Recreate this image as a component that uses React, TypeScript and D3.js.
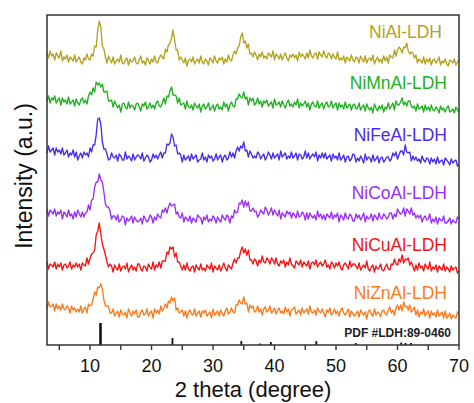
import React, { useEffect, useRef } from "react";
import * as d3 from "d3";

// Scan grid: 2θ from 3° to 70° in 0.25° steps (269 points per pattern)
const twoThetaStart = 3;
const twoThetaStep = 0.25;

const seriesNames = ["NiAl-LDH", "NiMnAl-LDH", "NiFeAl-LDH", "NiCoAl-LDH", "NiCuAl-LDH", "NiZnAl-LDH"];
const seriesColors = ["#b5a320", "#22b022", "#4a2de6", "#9b2ff2", "#f01616", "#f97b1d"];
// vertical stacking offsets (a.u.)
const seriesOffsets = [270, 225, 175, 115, 65, 20];

const niAl = [
  22, 17, 24, 19, 21, 15, 22, 19, 17, 24, 14, 18, 16, 20, 13, 18, 16, 14, 20, 13,
  16, 18, 13, 11, 17, 15, 21, 16, 15, 21, 19, 29, 28, 45, 54, 48, 29, 26, 18, 12,
  19, 15, 12, 18, 11, 14, 16, 13, 20, 12, 11, 15, 17, 10, 16, 13, 14, 18, 12, 11,
  15, 19, 12, 14, 10, 17, 15, 11, 16, 13, 19, 13, 12, 17, 20, 18, 16, 26, 23, 30,
  32, 37, 45, 35, 25, 25, 15, 18, 15, 12, 17, 9, 15, 16, 13, 18, 11, 14, 16, 12,
  19, 13, 11, 16, 14, 10, 17, 15, 12, 19, 14, 12, 17, 15, 18, 11, 16, 13, 20, 15,
  14, 20, 24, 21, 27, 29, 38, 42, 32, 34, 27, 31, 21, 22, 18, 23, 20, 15, 21, 18,
  23, 17, 19, 16, 22, 20, 18, 24, 15, 21, 19, 16, 21, 15, 19, 22, 17, 14, 20, 18,
  21, 17, 20, 14, 23, 18, 21, 19, 16, 22, 17, 25, 19, 17, 21, 22, 16, 23, 20, 18,
  24, 19, 17, 22, 21, 16, 21, 18, 16, 23, 15, 17, 15, 19, 12, 18, 16, 14, 20, 15,
  13, 18, 17, 12, 19, 16, 13, 19, 12, 16, 17, 14, 20, 11, 15, 18, 13, 16, 12, 19,
  14, 18, 12, 20, 18, 17, 25, 19, 25, 28, 26, 22, 28, 27, 32, 24, 21, 23, 22, 17,
  20, 12, 16, 14, 12, 18, 11, 16, 13, 17, 10, 15, 16, 12, 14, 18, 10, 14, 12, 16,
  11, 9, 15, 14, 12, 16, 10, 13, 15,
];
const niMnAl = [
  19, 24, 17, 22, 20, 24, 17, 20, 22, 15, 22, 18, 20, 16, 23, 16, 18, 20, 14, 21,
  17, 15, 20, 22, 17, 20, 16, 24, 28, 25, 32, 28, 38, 35, 37, 33, 36, 28, 28, 29,
  19, 19, 20, 13, 19, 15, 12, 15, 8, 16, 17, 13, 11, 18, 12, 15, 14, 10, 16, 17,
  13, 9, 16, 14, 18, 11, 13, 17, 12, 15, 11, 17, 19, 14, 13, 17, 22, 16, 24, 23,
  29, 33, 25, 25, 24, 17, 22, 15, 16, 17, 11, 19, 13, 12, 15, 10, 17, 14, 12, 16,
  8, 14, 16, 11, 13, 17, 10, 12, 15, 9, 14, 16, 11, 13, 10, 18, 13, 16, 9, 15,
  18, 14, 13, 21, 21, 26, 23, 22, 28, 21, 23, 15, 22, 19, 22, 15, 17, 22, 16, 19,
  13, 19, 17, 20, 14, 16, 18, 12, 21, 15, 16, 18, 13, 19, 15, 12, 17, 20, 14, 16,
  13, 18, 15, 21, 12, 17, 14, 16, 19, 13, 17, 10, 16, 18, 14, 13, 19, 12, 15, 17,
  11, 16, 18, 13, 14, 19, 12, 15, 17, 10, 17, 13, 15, 11, 18, 12, 14, 16, 10, 15,
  16, 11, 12, 17, 10, 13, 15, 9, 16, 12, 10, 13, 7, 16, 12, 9, 14, 11, 15, 8,
  13, 11, 17, 11, 14, 17, 10, 19, 15, 15, 18, 22, 15, 18, 14, 19, 19, 14, 12, 14,
  9, 16, 11, 12, 14, 8, 15, 10, 13, 9, 15, 10, 9, 13, 11, 7, 14, 10, 12, 8,
  12, 14, 8, 9, 11, 7, 13, 10, 8,
];
const niFeAl = [
  17, 24, 18, 20, 22, 15, 22, 18, 20, 16, 22, 15, 17, 20, 13, 17, 15, 20, 13, 18,
  10, 14, 17, 12, 18, 15, 17, 13, 22, 18, 25, 25, 35, 51, 52, 46, 28, 21, 21, 16,
  10, 11, 17, 13, 12, 15, 9, 16, 14, 10, 10, 18, 11, 14, 12, 9, 16, 10, 13, 15,
  14, 11, 17, 9, 12, 15, 13, 8, 10, 16, 12, 15, 11, 15, 18, 12, 17, 17, 26, 25,
  27, 36, 33, 24, 25, 16, 17, 15, 8, 15, 10, 12, 14, 9, 16, 11, 13, 15, 8, 10,
  11, 17, 10, 13, 8, 15, 12, 14, 9, 11, 16, 10, 13, 15, 8, 13, 15, 10, 12, 18,
  13, 17, 12, 19, 23, 19, 24, 22, 28, 19, 20, 13, 19, 16, 12, 14, 12, 18, 16, 11,
  14, 16, 10, 13, 18, 15, 11, 17, 12, 14, 16, 10, 19, 13, 15, 17, 11, 14, 12, 18,
  12, 14, 17, 10, 16, 15, 11, 13, 19, 12, 17, 11, 14, 16, 13, 18, 9, 15, 12, 17,
  12, 17, 11, 13, 15, 9, 16, 12, 14, 10, 17, 10, 12, 15, 8, 13, 14, 9, 11, 16,
  15, 8, 12, 9, 14, 11, 7, 16, 10, 13, 12, 8, 15, 9, 11, 14, 7, 12, 13, 8,
  10, 13, 13, 9, 11, 17, 14, 18, 11, 15, 19, 19, 15, 25, 18, 17, 18, 9, 14, 10,
  13, 9, 11, 7, 14, 10, 8, 12, 11, 6, 12, 8, 11, 6, 13, 7, 9, 10, 5, 12,
  10, 8, 5, 11, 7, 9, 10, 4, 6,
];
const niCoAl = [
  21, 14, 20, 18, 16, 21, 14, 18, 16, 20, 11, 18, 16, 13, 20, 14, 16, 11, 18, 13,
  20, 16, 13, 18, 13, 17, 18, 25, 20, 30, 31, 43, 48, 48, 56, 50, 48, 38, 26, 23,
  23, 19, 11, 14, 14, 10, 15, 8, 10, 14, 13, 5, 12, 9, 11, 14, 7, 13, 10, 8,
  9, 12, 6, 14, 11, 8, 10, 15, 13, 7, 13, 10, 16, 13, 12, 20, 18, 22, 17, 23,
  27, 24, 25, 26, 16, 18, 13, 12, 17, 8, 13, 11, 9, 14, 7, 12, 10, 8, 15, 13,
  12, 6, 13, 10, 15, 8, 11, 9, 14, 12, 7, 13, 10, 8, 15, 12, 10, 15, 13, 7,
  14, 12, 20, 17, 18, 27, 26, 30, 23, 29, 24, 28, 19, 19, 22, 18, 19, 13, 15, 20,
  18, 16, 23, 20, 15, 18, 22, 15, 20, 17, 14, 20, 11, 17, 15, 13, 19, 16, 18, 12,
  17, 15, 12, 19, 13, 14, 18, 16, 10, 17, 11, 17, 14, 12, 15, 10, 19, 13, 16, 11,
  15, 10, 16, 14, 12, 18, 11, 15, 13, 17, 8, 15, 13, 10, 17, 12, 11, 16, 14, 9,
  9, 16, 12, 15, 10, 13, 17, 8, 14, 11, 12, 16, 9, 15, 13, 10, 17, 12, 11, 16,
  14, 11, 13, 17, 17, 11, 16, 13, 21, 18, 16, 17, 22, 14, 21, 19, 16, 22, 15, 17,
  12, 15, 12, 15, 8, 12, 14, 10, 11, 16, 7, 11, 8, 13, 6, 12, 10, 9, 14, 7,
  7, 9, 12, 6, 10, 8, 7, 13, 11,
];
const niCuAl = [
  18, 11, 16, 15, 13, 18, 11, 16, 13, 17, 10, 15, 16, 12, 14, 18, 11, 15, 13, 17,
  13, 16, 10, 17, 15, 14, 22, 16, 22, 26, 27, 30, 45, 49, 57, 46, 36, 31, 25, 18,
  13, 16, 14, 8, 15, 12, 10, 16, 9, 13, 14, 11, 17, 8, 12, 15, 10, 13, 9, 16,
  16, 11, 9, 14, 13, 9, 16, 13, 11, 18, 10, 15, 13, 18, 12, 19, 19, 19, 28, 26,
  33, 31, 33, 23, 27, 18, 18, 14, 10, 15, 10, 17, 11, 9, 13, 14, 8, 15, 12, 10,
  16, 10, 12, 9, 15, 13, 11, 17, 8, 14, 12, 10, 15, 9, 13, 17, 12, 9, 15, 13,
  11, 17, 21, 17, 22, 22, 29, 33, 27, 31, 25, 30, 20, 20, 16, 21, 19, 14, 20, 17,
  24, 18, 17, 22, 20, 16, 22, 20, 16, 22, 16, 14, 19, 17, 20, 13, 18, 15, 22, 16,
  14, 12, 19, 17, 15, 20, 13, 18, 16, 14, 19, 11, 17, 18, 15, 20, 13, 16, 18, 14,
  16, 20, 13, 15, 11, 18, 16, 12, 17, 14, 18, 12, 10, 15, 17, 14, 11, 19, 13, 16,
  16, 14, 11, 17, 10, 13, 15, 12, 19, 11, 9, 13, 15, 8, 14, 11, 12, 16, 10, 9,
  13, 16, 11, 10, 16, 15, 21, 16, 15, 21, 18, 25, 17, 21, 20, 22, 15, 18, 14, 9,
  15, 10, 17, 12, 14, 9, 16, 13, 11, 18, 9, 13, 11, 15, 8, 14, 12, 10, 16, 9,
  13, 11, 8, 14, 10, 12, 13, 7, 9,
];
const niZnAl = [
  16, 23, 18, 19, 21, 14, 21, 16, 19, 15, 21, 16, 15, 19, 17, 12, 19, 15, 17, 13,
  16, 13, 19, 12, 16, 18, 12, 21, 19, 20, 26, 33, 30, 38, 37, 41, 36, 25, 19, 19,
  19, 12, 12, 16, 9, 12, 14, 8, 15, 11, 10, 13, 7, 16, 12, 9, 14, 11, 15, 8,
  8, 13, 15, 10, 11, 16, 9, 12, 14, 7, 16, 12, 15, 11, 19, 14, 17, 21, 17, 24,
  22, 28, 24, 27, 15, 17, 12, 13, 15, 9, 14, 7, 13, 15, 11, 10, 16, 9, 12, 14,
  8, 14, 12, 15, 9, 11, 13, 7, 16, 10, 12, 14, 9, 15, 11, 9, 14, 17, 11, 13,
  17, 13, 12, 20, 20, 25, 22, 21, 28, 21, 22, 13, 20, 17, 19, 13, 14, 19, 13, 16,
  10, 16, 18, 13, 15, 19, 12, 14, 17, 11, 15, 17, 12, 14, 11, 18, 13, 16, 9, 15,
  16, 18, 11, 13, 15, 10, 17, 12, 14, 16, 11, 19, 13, 12, 15, 10, 17, 14, 12, 16,
  12, 8, 15, 13, 17, 10, 12, 16, 11, 14, 9, 15, 17, 12, 10, 13, 16, 8, 14, 11,
  9, 11, 14, 8, 15, 12, 10, 13, 6, 14, 15, 11, 9, 16, 10, 13, 12, 8, 14, 15,
  11, 10, 15, 18, 12, 15, 10, 17, 20, 15, 20, 14, 23, 18, 19, 15, 20, 13, 15, 18,
  10, 15, 8, 13, 11, 16, 9, 12, 14, 7, 14, 10, 12, 8, 15, 9, 11, 13, 7, 14,
  7, 9, 12, 6, 10, 8, 7, 13, 11,
];
const seriesValues = [niAl, niMnAl, niFeAl, niCoAl, niCuAl, niZnAl];

// Reference pattern PDF #LDH:89-0460 (2θ, relative height)
const pdfPositions = [11.7, 23.4, 34.6, 37.6, 39.4, 46.8, 53.2, 60.6, 61.3, 62.2];
const pdfHeights = [22, 7, 4, 1.5, 3, 4, 2, 2.5, 2, 2];
const pdfLabel = "PDF #LDH:89-0460";

const xTicks = [10, 20, 30, 40, 50, 60, 70];
const xMinorTicks = [5, 15, 25, 35, 45, 55, 65];

const W = 474;
const H = 403;
const M = { left: 47, right: 459, top: 15, bottom: 345 };
const labelRight = [442, 447, 447, 447, 447, 447];
const labelLift = [37, 31, 29, 31, 29, 26];
const FONT = "Arial, 'Liberation Sans', Helvetica, sans-serif";

export default function App() {
  const ref = useRef<SVGSVGElement | null>(null);

  useEffect(() => {
    const svg = d3.select(ref.current);
    svg.selectAll("*").remove();

    const x = d3.scaleLinear().domain([3, 70]).range([M.left, M.right]);
    const y = d3.scaleLinear().domain([0, 330]).range([M.bottom, M.top]);

    const plot = svg.append("g");

    seriesValues.forEach((vals, s) => {
      const line = d3
        .line<number>()
        .x((_, i) => x(twoThetaStart + i * twoThetaStep))
        .y((v) => y(v + seriesOffsets[s]));
      plot
        .append("path")
        .attr("d", line(vals) as string)
        .attr("fill", "none")
        .attr("stroke", seriesColors[s])
        .attr("stroke-width", 1.35)
        .attr("stroke-linejoin", "round");

      plot
        .append("text")
        .attr("x", labelRight[s])
        .attr("y", y(seriesOffsets[s]) - labelLift[s])
        .attr("text-anchor", "end")
        .attr("font-family", FONT)
        .attr("font-size", 17.5)
        .attr("fill", seriesColors[s])
        .text(seriesNames[s]);
    });

    // reference sticks
    pdfPositions.forEach((p, k) => {
      plot
        .append("line")
        .attr("x1", x(p))
        .attr("x2", x(p))
        .attr("y1", y(0))
        .attr("y2", y(pdfHeights[k]))
        .attr("stroke", "#111")
        .attr("stroke-width", k === 0 ? 2.6 : 1.8);
    });
    plot
      .append("text")
      .attr("x", 451)
      .attr("y", 337)
      .attr("text-anchor", "end")
      .attr("font-family", FONT)
      .attr("font-weight", "bold")
      .attr("font-size", 12)
      .attr("fill", "#222")
      .text(pdfLabel);

    // frame
    svg
      .append("rect")
      .attr("x", M.left)
      .attr("y", M.top)
      .attr("width", M.right - M.left)
      .attr("height", M.bottom - M.top)
      .attr("fill", "none")
      .attr("stroke", "#333")
      .attr("stroke-width", 1.5);

    // bottom axis ticks
    const axis = svg.append("g");
    [...xTicks, ...xMinorTicks].forEach((t) => {
      axis
        .append("line")
        .attr("x1", x(t))
        .attr("x2", x(t))
        .attr("y1", M.bottom)
        .attr("y2", M.bottom + 5)
        .attr("stroke", "#333")
        .attr("stroke-width", 1.4);
    });
    xTicks.forEach((t) => {
      axis
        .append("text")
        .attr("x", x(t))
        .attr("y", 372)
        .attr("text-anchor", "middle")
        .attr("font-family", FONT)
        .attr("font-size", 18)
        .attr("fill", "#111")
        .text(String(t));
    });

    svg
      .append("text")
      .attr("x", 253)
      .attr("y", 397)
      .attr("text-anchor", "middle")
      .attr("font-family", FONT)
      .attr("font-size", 22)
      .attr("fill", "#111")
      .text("2 theta (degree)");

    svg
      .append("text")
      .attr("transform", "translate(32,176) rotate(-90)")
      .attr("text-anchor", "middle")
      .attr("font-family", FONT)
      .attr("font-size", 23)
      .attr("fill", "#111")
      .text("Intensity (a.u.)");
  }, []);

  return (
    <svg
      ref={ref}
      width={W}
      height={H}
      style={{ position: "absolute", left: 0, top: 0, background: "#fff" }}
    />
  );
}
